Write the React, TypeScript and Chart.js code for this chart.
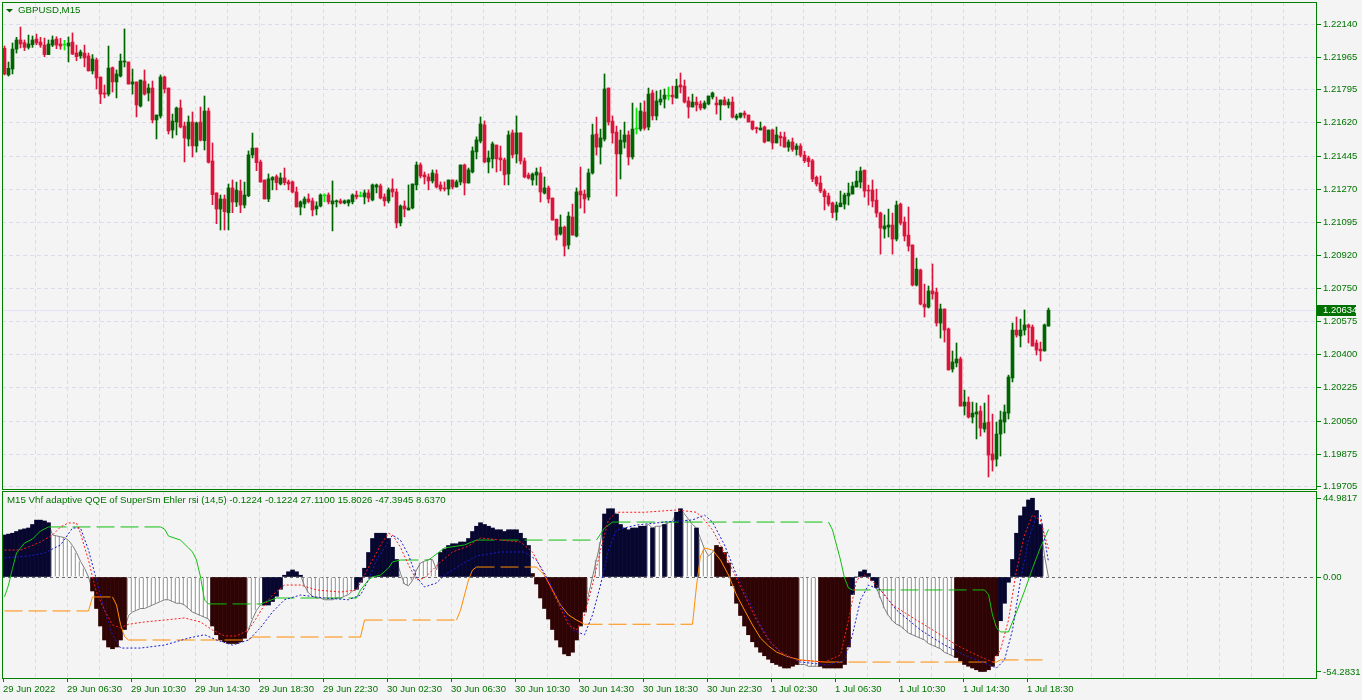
import { useEffect, useRef } from 'react';
import { Chart, registerables } from 'chart.js';

Chart.register(...registerables);

// ---------------- data ----------------
const symbolTitle = 'GBPUSD,M15';
const indicatorTitle =
  'M15 Vhf adaptive QQE of SuperSm Ehler rsi (14,5) -0.1224 -0.1224 27.1100 15.8026 -47.3945 8.6370';

const timeTickLabels = [
  '29 Jun 2022', '29 Jun 06:30', '29 Jun 10:30', '29 Jun 14:30', '29 Jun 18:30', '29 Jun 22:30',
  '30 Jun 02:30', '30 Jun 06:30', '30 Jun 10:30', '30 Jun 14:30', '30 Jun 18:30', '30 Jun 22:30',
  '1 Jul 02:30', '1 Jul 06:30', '1 Jul 10:30', '1 Jul 14:30', '1 Jul 18:30',
];

const priceTickValues = [
  1.2214, 1.21965, 1.21795, 1.2162, 1.21445, 1.2127, 1.21095, 1.2092, 1.2075, 1.20575,
  1.204, 1.20225, 1.2005, 1.19875, 1.19705,
];

const indicatorTickValues = [44.9817, 0, -54.2831];
const indicatorTickLabels = ['44.9817', '0.00', '-54.2831'];

const opens = [
  1.22012, 1.21872, 1.21903, 1.22008, 1.22056, 1.22042, 1.22017, 1.22031, 1.22061, 1.22045,
  1.22029, 1.21979, 1.22029, 1.22061, 1.22035, 1.22029, 1.22024, 1.22045, 1.21987, 1.21972,
  1.21987, 1.21972, 1.21893, 1.21951, 1.21861, 1.21777, 1.21771, 1.2191, 1.21835, 1.21866,
  1.2194, 1.2194, 1.21824, 1.21835, 1.21708, 1.2184, 1.21777, 1.21803, 1.21635, 1.21656,
  1.21861, 1.21803, 1.21582, 1.21624, 1.21698, 1.21603, 1.21535, 1.21624, 1.21498, 1.21624,
  1.21526, 1.21682, 1.21419, 1.21251, 1.21166, 1.21219, 1.21147, 1.21277, 1.21203, 1.21261,
  1.21187, 1.21236, 1.21451, 1.21487, 1.21414, 1.21319, 1.21219, 1.21319, 1.21337, 1.21298,
  1.2133, 1.21309, 1.21309, 1.21256, 1.21177, 1.21193, 1.21219, 1.21209, 1.21167, 1.21182,
  1.21235, 1.2124, 1.21193, 1.21204, 1.21209, 1.21198, 1.21198, 1.21204, 1.2124, 1.21233,
  1.2123, 1.21251, 1.21214, 1.21282, 1.21288, 1.2123, 1.21209, 1.21272, 1.21256, 1.21093,
  1.21182, 1.21161, 1.21172, 1.21293, 1.21398, 1.21346, 1.21335, 1.21314, 1.21351, 1.21293,
  1.21277, 1.21272, 1.21319, 1.21282, 1.21309, 1.21398, 1.21303, 1.21361, 1.21467, 1.21524,
  1.21609, 1.21414, 1.2143, 1.21503, 1.21435, 1.21425, 1.21351, 1.21567, 1.21456, 1.21567,
  1.21419, 1.21345, 1.21319, 1.21345, 1.21356, 1.2125, 1.21277, 1.21224, 1.21113, 1.21035,
  1.21071, 1.20977, 1.21124, 1.21024, 1.21261, 1.21245, 1.21229, 1.21356, 1.21561, 1.21492,
  1.21534, 1.21803, 1.21629, 1.21571, 1.21456, 1.21519, 1.21556, 1.2144, 1.21587, 1.21587,
  1.21677, 1.21598, 1.21777, 1.21656, 1.21729, 1.21745, 1.2176, 1.21766, 1.2175, 1.21819,
  1.21813, 1.21735, 1.21703, 1.21729, 1.21719, 1.21698, 1.21719, 1.21756, 1.21724, 1.21714,
  1.2174, 1.21714, 1.21729, 1.21645, 1.2165, 1.21671, 1.21661, 1.21629, 1.21592, 1.21582,
  1.21598, 1.21524, 1.21582, 1.21514, 1.2155, 1.21545, 1.21492, 1.21519, 1.2148, 1.21498,
  1.2145, 1.21435, 1.2142, 1.21333, 1.21303, 1.21261, 1.21235, 1.21198, 1.2115, 1.21178,
  1.21192, 1.21235, 1.21245, 1.21282, 1.21308, 1.21371, 1.21266, 1.21266, 1.21213, 1.21145,
  1.21061, 1.21071, 1.21082, 1.21008, 1.21192, 1.21098, 1.21029, 1.20977, 1.20766, 1.20845,
  1.20666, 1.2065, 1.20735, 1.20729, 1.20566, 1.2064, 1.20535, 1.20324, 1.20356, 1.20377,
  1.20129, 1.2015, 1.20071, 1.20087, 1.20103, 1.20008, 1.20045, 1.19877, 1.1985, 1.19982,
  1.20045, 1.20092, 1.20277, 1.20529, 1.20498, 1.20529, 1.20556, 1.20545, 1.20461, 1.20429,
  1.20419, 1.2055,
];

const highs = [
  1.22024, 1.2194, 1.2204, 1.2207, 1.22124, 1.22056, 1.22082, 1.22077, 1.22087, 1.2207,
  1.22066, 1.22056, 1.22077, 1.22073, 1.22065, 1.22054, 1.22072, 1.22093, 1.22029, 1.22003,
  1.22029, 1.21987, 1.21979, 1.21961, 1.21861, 1.21819, 1.22024, 1.21914, 1.21898, 1.21982,
  1.22114, 1.2194, 1.21903, 1.21835, 1.21845, 1.21898, 1.21824, 1.2184, 1.21661, 1.21872,
  1.21866, 1.21803, 1.21666, 1.21703, 1.2174, 1.21624, 1.21656, 1.21677, 1.21624, 1.21703,
  1.21761, 1.21698, 1.21514, 1.21251, 1.2124, 1.2124, 1.21298, 1.21319, 1.21308, 1.21319,
  1.21308, 1.21472, 1.21566, 1.21487, 1.21424, 1.21319, 1.21351, 1.21337, 1.21346, 1.21356,
  1.21382, 1.21319, 1.21314, 1.21282, 1.21209, 1.2123, 1.21246, 1.21224, 1.21204, 1.21246,
  1.21246, 1.21251, 1.21314, 1.21214, 1.21219, 1.21214, 1.21214, 1.21246, 1.21261, 1.21256,
  1.21267, 1.21267, 1.21298, 1.21298, 1.21298, 1.21246, 1.21277, 1.21325, 1.21272, 1.21188,
  1.21209, 1.21293, 1.21298, 1.21414, 1.21409, 1.21361, 1.21351, 1.21372, 1.21372, 1.21309,
  1.21309, 1.21319, 1.21319, 1.21319, 1.21398, 1.21403, 1.21382, 1.21493, 1.21546, 1.21651,
  1.2163, 1.21472, 1.21519, 1.21503, 1.21498, 1.21435, 1.21577, 1.21582, 1.21656, 1.21567,
  1.21435, 1.21356, 1.21356, 1.21382, 1.21387, 1.21335, 1.21287, 1.21224, 1.21113, 1.21135,
  1.21077, 1.2115, 1.21192, 1.21277, 1.21387, 1.21266, 1.21377, 1.21613, 1.2165, 1.21587,
  1.21877, 1.21803, 1.21656, 1.21603, 1.21582, 1.21624, 1.21577, 1.21724, 1.21698, 1.21724,
  1.21735, 1.21803, 1.21792, 1.21787, 1.21792, 1.21798, 1.21808, 1.21813, 1.2185, 1.21882,
  1.21845, 1.21756, 1.21771, 1.21756, 1.21735, 1.21735, 1.21761, 1.21782, 1.21756, 1.2174,
  1.21756, 1.21745, 1.21756, 1.21666, 1.21671, 1.21682, 1.21661, 1.21629, 1.21598, 1.21624,
  1.21603, 1.21582, 1.21587, 1.21598, 1.21571, 1.21571, 1.2153, 1.2154, 1.2151, 1.2151,
  1.2147, 1.21445, 1.21428, 1.2134, 1.2134, 1.21271, 1.2125, 1.21203, 1.21203, 1.21261,
  1.2125, 1.21303, 1.21308, 1.21366, 1.21387, 1.21371, 1.21292, 1.21319, 1.21271, 1.2115,
  1.21135, 1.21166, 1.21145, 1.21208, 1.21198, 1.21124, 1.21177, 1.20977, 1.20908, 1.2085,
  1.20771, 1.20761, 1.20877, 1.2075, 1.20666, 1.2064, 1.2054, 1.20419, 1.20461, 1.20387,
  1.20213, 1.20177, 1.2015, 1.20145, 1.20129, 1.20145, 1.20187, 1.20087, 1.20045, 1.20103,
  1.20135, 1.20292, 1.20566, 1.20598, 1.20587, 1.20635, 1.20561, 1.20556, 1.20477, 1.20466,
  1.20561, 1.20645,
];

const lows = [
  1.21872, 1.21866, 1.21877, 1.21987, 1.22014, 1.22, 1.22008, 1.22017, 1.22031, 1.22017,
  1.21968, 1.21979, 1.22021, 1.2201, 1.22007, 1.22003, 1.2194, 1.21979, 1.21947, 1.21959,
  1.21914, 1.21893, 1.21877, 1.21798, 1.21721, 1.21751, 1.21761, 1.21782, 1.21751, 1.21861,
  1.21914, 1.21824, 1.21771, 1.21651, 1.21703, 1.21766, 1.21735, 1.21619, 1.21535, 1.21645,
  1.21777, 1.21561, 1.2154, 1.21556, 1.21593, 1.21414, 1.21498, 1.2144, 1.21466, 1.21524,
  1.21477, 1.21408, 1.21189, 1.21089, 1.21056, 1.21056, 1.21056, 1.21147, 1.21179, 1.21147,
  1.21172, 1.21231, 1.21435, 1.21368, 1.21308, 1.21219, 1.21205, 1.21267, 1.21267, 1.21293,
  1.21293, 1.21267, 1.21251, 1.21177, 1.21135, 1.21172, 1.21198, 1.2113, 1.21135, 1.21177,
  1.21204, 1.21193, 1.21051, 1.21177, 1.21193, 1.21193, 1.21182, 1.21193, 1.21219, 1.2123,
  1.21193, 1.21204, 1.21209, 1.21251, 1.21219, 1.21182, 1.21198, 1.2123, 1.21067, 1.21077,
  1.21125, 1.21161, 1.21167, 1.21267, 1.2133, 1.21298, 1.21267, 1.21303, 1.21277, 1.21261,
  1.21261, 1.2124, 1.21272, 1.21282, 1.21293, 1.2124, 1.21303, 1.21356, 1.2143, 1.21514,
  1.21409, 1.21356, 1.21382, 1.21361, 1.21367, 1.21293, 1.21293, 1.21435, 1.21409, 1.21403,
  1.2133, 1.21324, 1.21292, 1.21292, 1.21203, 1.21245, 1.21198, 1.21108, 1.21003, 1.21029,
  1.20919, 1.20956, 1.21029, 1.21019, 1.21171, 1.21145, 1.21213, 1.2135, 1.2145, 1.21403,
  1.21524, 1.21608, 1.21513, 1.21234, 1.21324, 1.21487, 1.21398, 1.21429, 1.21561, 1.21577,
  1.21582, 1.21582, 1.21635, 1.21635, 1.21714, 1.21698, 1.2174, 1.21719, 1.2175, 1.21777,
  1.21724, 1.21645, 1.21703, 1.21682, 1.21687, 1.21692, 1.21714, 1.21745, 1.21666, 1.21635,
  1.21714, 1.21698, 1.21645, 1.21635, 1.21645, 1.21645, 1.21624, 1.21582, 1.21566, 1.21582,
  1.21514, 1.21524, 1.21482, 1.21514, 1.21498, 1.21492, 1.2147, 1.2147, 1.2145, 1.2144,
  1.2141, 1.21389, 1.2131, 1.21287, 1.21252, 1.21161, 1.21182, 1.2112, 1.21108, 1.21178,
  1.21166, 1.21187, 1.21245, 1.21282, 1.21277, 1.21229, 1.21187, 1.21177, 1.21124, 1.20929,
  1.21013, 1.21019, 1.20929, 1.20998, 1.21082, 1.20998, 1.20945, 1.20761, 1.20761, 1.20661,
  1.20598, 1.20645, 1.20692, 1.2055, 1.20487, 1.20466, 1.20319, 1.20308, 1.20335, 1.20129,
  1.20082, 1.20066, 1.2004, 1.19956, 1.19971, 1.19992, 1.19756, 1.19787, 1.19813, 1.19866,
  1.19987, 1.20061, 1.20256, 1.20492, 1.2044, 1.20503, 1.20461, 1.20445, 1.20398, 1.20366,
  1.20419, 1.2055,
];

const closes = [
  1.21877, 1.21907, 1.22008, 1.22056, 1.22035, 1.22017, 1.22035, 1.22056, 1.2204, 1.22029,
  1.21979, 1.22035, 1.22056, 1.22029, 1.22024, 1.22029, 1.2204, 1.21982, 1.21968, 1.21993,
  1.21961, 1.21893, 1.21956, 1.21856, 1.21771, 1.21771, 1.21908, 1.21835, 1.21877, 1.21945,
  1.21945, 1.21824, 1.21835, 1.21714, 1.21845, 1.21771, 1.21803, 1.21635, 1.21661, 1.21861,
  1.21798, 1.21577, 1.21629, 1.21698, 1.21598, 1.2154, 1.21624, 1.21498, 1.21619, 1.21529,
  1.21682, 1.21412, 1.21242, 1.21166, 1.21219, 1.21152, 1.21277, 1.21203, 1.21266, 1.21187,
  1.2124, 1.21451, 1.21487, 1.2141, 1.21308, 1.21219, 1.21325, 1.21332, 1.21305, 1.2133,
  1.21305, 1.21298, 1.21256, 1.21177, 1.21204, 1.21219, 1.21204, 1.21161, 1.21182, 1.2124,
  1.21235, 1.21204, 1.21209, 1.21209, 1.21198, 1.21209, 1.21214, 1.2124, 1.2123, 1.21233,
  1.21251, 1.21224, 1.21293, 1.21293, 1.21224, 1.21209, 1.21267, 1.21256, 1.21093, 1.21182,
  1.21167, 1.21172, 1.21298, 1.21398, 1.2134, 1.21335, 1.21314, 1.21356, 1.21282, 1.21272,
  1.21272, 1.21319, 1.21282, 1.21309, 1.21398, 1.21303, 1.21372, 1.21472, 1.2153, 1.21614,
  1.21414, 1.21435, 1.21509, 1.2143, 1.21425, 1.21346, 1.21556, 1.21451, 1.21567, 1.21419,
  1.21335, 1.21329, 1.2135, 1.21361, 1.21256, 1.21277, 1.21219, 1.21108, 1.21029, 1.21071,
  1.20971, 1.21129, 1.21029, 1.21256, 1.2124, 1.21219, 1.21356, 1.21556, 1.21492, 1.2154,
  1.21798, 1.21624, 1.21566, 1.21456, 1.21529, 1.21556, 1.2144, 1.21587, 1.21587, 1.21682,
  1.21592, 1.21771, 1.21656, 1.21735, 1.21745, 1.21766, 1.2176, 1.21756, 1.21813, 1.21808,
  1.21729, 1.21703, 1.21729, 1.21714, 1.21698, 1.21724, 1.21761, 1.21777, 1.21714, 1.2174,
  1.21714, 1.21729, 1.2165, 1.21656, 1.21671, 1.21661, 1.21624, 1.21587, 1.21589, 1.21592,
  1.21519, 1.21582, 1.21514, 1.21556, 1.2154, 1.21492, 1.21519, 1.2148, 1.21498, 1.2145,
  1.2142, 1.21415, 1.21324, 1.21298, 1.21261, 1.21231, 1.21192, 1.21147, 1.21187, 1.21198,
  1.2124, 1.2125, 1.21287, 1.21313, 1.21366, 1.21261, 1.21261, 1.21208, 1.21145, 1.21066,
  1.21077, 1.21082, 1.21008, 1.21187, 1.21092, 1.21024, 1.20971, 1.20766, 1.2085, 1.20666,
  1.2065, 1.20735, 1.20719, 1.20566, 1.2064, 1.20529, 1.20319, 1.20361, 1.20377, 1.20129,
  1.2015, 1.20071, 1.20092, 1.20098, 1.20013, 1.2004, 1.19871, 1.19845, 1.19982, 1.20056,
  1.20098, 1.20282, 1.20529, 1.20503, 1.20529, 1.20556, 1.20543, 1.20445, 1.20424, 1.20419,
  1.20556, 1.20634,
];

// indicator histogram value per bar
const qqeHist = [
  24, 24.5, 25, 26, 27, 27.5, 28, 30, 32.5, 32.5, 32, 31,
  24, 23.5, 23, 22.5, 21, 18, 14, 9, 5, 0,
  -8, -18, -28, -36, -40, -41, -40, -36, -30,
  -22, -20, -19, -18, -18, -17, -16, -15, -14, -13, -13, -14, -15, -15, -16, -18, -20, -21, -22, -23, -24,
  -28, -33, -36, -37, -38, -38, -38, -37, -35,
  -30, -24, -19, -16,
  -16, -16, -14, -11, -7, 1, 3, 4, 3, 1,
  -5, -9, -11, -12, -12, -13, -13, -13, -12, -12, -11, -10, -8,
  -7, -3, 5, 14, 22, 25, 25, 25, 22, 17, 10,
  2, -4, -5, -2, 4, 8, 9, 10, 10, 4,
  14, 16, 18, 19, 19, 20, 20, 22, 26, 29, 31, 30, 29, 28, 27, 27, 26, 27, 27, 27, 25, 22, 18,
  2, -4, -12, -18, -24, -30, -36, -40, -44, -45, -43, -36, -28, -20,
  -10, 0, 10, 20,
  36, 39, 39, 36, 30, 28, 27, 28, 28, 29, 29, 30, 28, 29, 29, 30, 31, 32, 37, 39, 36, 33, 30, 28,
  22, 16, 12, 14,
  18, 17, 14, 8,
  -5, -15, -22, -28, -33, -37, -40, -43, -45, -47, -49, -50, -51, -52, -52, -51, -50,
  -50, -50, -51, -51, -51,
  -51, -52, -52, -52, -52, -52, -50, -40,
  -10, 0, 3, 4, 2, -2, -6,
  -12, -18, -22, -25, -27, -28, -30, -32, -33, -34, -35, -36, -38, -39, -40, -41, -43, -44, -45,
  -46, -48, -50, -51, -52, -53, -54, -54, -53, -51, -45,
  -25, -15, -3, 10, 25, 35, 40, 44, 45, 38, 30,
  12, -0.1224,
];

// colour state runs of the histogram: U = navy (up), D = brown (down), N = neutral hatch
const qqeStateRuns: [string, number][] = [
  ['U', 12], ['N', 10], ['D', 9], ['N', 21], ['D', 9], ['N', 4], ['U', 10], ['N', 13], ['U', 11],
  ['N', 10], ['U', 23], ['D', 14], ['N', 4], ['U', 11], ['N', 1], ['U', 1], ['N', 2], ['U', 1],
  ['N', 2], ['U', 2], ['N', 3], ['U', 1], ['N', 4], ['D', 21], ['N', 5], ['D', 8], ['U', 7],
  ['N', 19], ['D', 11], ['U', 11], ['N', 2],
];

// lines read at selected bars: [bar index, value]
const upperLevelPts: [number, number][] = [
  [0, -11.4], [1, -4.6], [2, 5], [3, 13.7], [5, 19.4], [7, 21.7], [9, 26.3], [11, 28.6], [39, 28.6],
  [40, 27.4], [41, 23.4], [44, 21.1], [46, 16.6], [47, 14.3], [48, 9.7], [49, 0], [50, -13.1], [51, -15.4],
  [64, -15.4], [68, -12], [88, -12], [89, -7.4], [91, -1.7], [92, 0], [94, 1.1], [96, 5.1], [97, 8.6],
  [99, 9.7], [106, 9.7], [107, 11.4], [110, 16.6], [115, 18.3], [118, 21.1], [148, 21.1], [150, 28],
  [152, 31.4], [206, 31.4], [207, 26.9], [208, 18.3], [209, 9.7], [210, -0.6], [211, -6.3], [212, -7.4],
  [245, -7.4], [246, -10], [247, -21.7], [248, -29], [249, -31.4], [251, -31.4], [253, -20], [255, -8],
  [257, 5], [259, 17], [261, 27.11],
];

const lowerLevelPts: [number, number][] = [
  [0, -19.4], [21, -19.4], [22, -11.4], [27, -11.4], [28, -16], [29, -27], [30, -34], [31, -36], [61, -36],
  [62, -34.3], [89, -34.3], [90, -24.6], [113, -24.6], [114, -19], [115, -10.3], [116, -1.7], [117, 4],
  [118, 5.7], [133, 5.7], [135, 1], [137, -7.4], [139, -16], [141, -21.7], [143, -24.6], [145, -27],
  [172, -27], [173, -5], [174, 12], [175, 16.6], [177, 15.4], [179, 9.7], [181, 1.1], [183, -10.3],
  [185, -18.9], [187, -27.4], [189, -34.9], [191, -39.4], [193, -42.9], [196, -45.7], [199, -47.4],
  [205, -48.6], [248, -48.6], [249, -47.39], [261, -47.39],
];

const fastLinePts: [number, number][] = [
  [0, 15.4], [4, 15.4], [6, 17.1], [9, 20], [12, 24], [14, 28.6], [16, 30.9], [18, 30.9], [19, 25],
  [20, 17.1], [21, 9.7], [22, 0], [23, -8.6], [25, -19], [27, -27.4], [29, -29], [31, -27], [35, -25.7],
  [40, -24.6], [45, -23.4], [49, -25.7], [52, -30.3], [55, -33.7], [58, -33.7], [61, -30.3], [63, -23.4],
  [65, -16], [67, -10.3], [70, -4.6], [74, -4.6], [78, -7.4], [84, -8.6], [88, -7.4], [90, 1.1], [92, 9.7],
  [94, 18.3], [96, 25], [97, 24], [99, 17], [101, 6.9], [103, -1.7], [105, -0.6], [107, 4], [109, 8.6],
  [112, 14.3], [116, 17.7], [119, 22.3], [124, 21.1], [129, 20], [132, 14.3], [135, 1.1], [138, -13],
  [141, -27.4], [143, -30.3], [145, -21.7], [147, -4.6], [149, 15.4], [151, 32.6], [153, 37], [160, 37],
  [168, 38.3], [173, 37], [175, 32.6], [177, 26.9], [179, 18.3], [182, 4], [185, -10.3], [188, -24.6],
  [191, -36], [194, -42.9], [198, -47.4], [205, -48.6], [209, -44.6], [211, -24.6], [213, -1.7],
  [215, 1.1], [218, -4.6], [222, -16], [228, -24.6], [234, -33], [238, -38.9], [243, -44.6], [247, -48.6],
  [249, -41.7], [251, -24.6], [253, 4], [255, 24], [257, 35.4], [259, 32.6], [261, 15.8026],
];

const slowLinePts: [number, number][] = [
  [0, 10.9], [6, 12], [10, 13.7], [14, 18.3], [17, 28], [19, 28], [21, 15.4], [23, -1.7], [25, -18.9],
  [27, -33], [29, -40.6], [34, -40.6], [40, -38.9], [46, -34.9], [50, -33], [53, -36], [57, -38.9],
  [61, -36], [64, -29], [67, -20], [70, -13], [74, -10.3], [80, -12], [86, -13], [89, -10.3], [91, -1.7],
  [93, 9.7], [95, 16.6], [97, 24], [99, 21], [101, 12.6], [103, 0], [105, -5.7], [108, -3.4], [110, 1.1],
  [114, 6.9], [118, 12], [124, 14.3], [130, 14.3], [133, 9.7], [136, -1.7], [139, -16], [142, -30.3],
  [145, -33], [147, -21.7], [149, -4.6], [151, 15.4], [153, 26.9], [158, 29.7], [165, 31.4], [172, 32.6],
  [175, 35.4], [177, 31.4], [180, 18.3], [183, 1.1], [186, -13], [189, -27.4], [192, -38.9], [195, -44.6],
  [199, -48.6], [206, -50.3], [210, -47.4], [212, -33], [214, -13], [216, -4.6], [219, -7.4], [223, -18.9],
  [229, -30.3], [235, -38.9], [240, -44.6], [245, -49.1], [248, -52], [250, -47.4], [252, -30.3],
  [254, -1.7], [256, 21], [258, 35.4], [259, 35.4], [261, 8.637],
];

// ---------------- styling ----------------
const BG = '#f4f4f4';
const FRAME = '#008000';
const TEXT = '#007400';
const GRID = '#dcdcef';
const BULL = '#006400';
const BEAR = '#dc143c';
const DOJI = '#00f000';
const NAVY = '#06062e';
const BROWN = '#2e0303';
const FAMILY = '"Liberation Sans", Arial, sans-serif';
const FONT = { family: FAMILY, size: 9.5 };
const TITLE_FONT = `9.7px ${FAMILY}`;
const W = 1362;
const TOP_H = 490;
const BOT_H = 210;
const X_MIN = -0.625;
const X_MAX = 327.875;
const PRICE_MAX = 1.222558;
const PRICE_MIN = 1.196926;
const IND_MAX = 49.143;
const IND_MIN = -57.714;

const qqeState: string[] = qqeStateRuns.flatMap(([s, n]) => Array(n).fill(s));
const gridTicks = Array.from({ length: 41 }, (_, m) => 8 * m - 0.375);

const frameRect = (chart: any, top: number) => {
  const { ctx, chartArea: a } = chart;
  ctx.save();
  ctx.strokeStyle = FRAME;
  ctx.lineWidth = 1;
  ctx.strokeRect(Math.round(a.left) + 0.5, top + 0.5, Math.round(a.right - a.left), Math.round(a.bottom) - top);
  ctx.restore();
};

const xScaleBase = (showLabels: boolean) => ({
  type: 'linear',
  min: X_MIN,
  max: X_MAX,
  offset: false,
  afterBuildTicks: (s: any) => {
    s.ticks = gridTicks.map((v) => ({ value: v }));
  },
  afterFit: (s: any) => {
    s.height = showLabels ? 22 : 1;
    s.paddingLeft = 0;
    s.paddingRight = 0;
  },
  ticks: {
    display: showLabels,
    autoSkip: false,
    maxRotation: 0,
    minRotation: 0,
    align: 'start',
    padding: 2,
    color: TEXT,
    font: FONT,
    callback: (_v: any, i: number) => (i % 2 === 0 && timeTickLabels[i / 2] ? timeTickLabels[i / 2] : ''),
  },
  grid: {
    offset: false,
    color: (c: any) => (c.index === 0 ? 'rgba(0,0,0,0)' : GRID),
    drawTicks: showLabels,
    tickLength: 4,
    tickColor: (c: any) => (c.index % 2 === 0 && timeTickLabels[c.index / 2] ? FRAME : 'rgba(0,0,0,0)'),
  },
  border: { display: false, dash: [4, 3] },
});

const levelLine = (pts: [number, number][], color: string) => ({
  type: 'line',
  data: pts.map(([x, y]) => ({ x, y })),
  borderColor: color,
  borderWidth: 1,
  borderDash: [],
  pointRadius: 0,
  tension: 0,
  segment: {
    borderDash: (c: any) => (c.p0.parsed.y === c.p1.parsed.y ? [18, 6] : undefined),
  },
  order: 1,
});

const dottedLine = (pts: [number, number][], color: string) => ({
  type: 'line',
  data: pts.map(([x, y]) => ({ x, y })),
  borderColor: color,
  borderWidth: 1,
  borderDash: [2, 2],
  pointRadius: 0,
  tension: 0,
  order: 0,
});

export default function App() {
  const topRef = useRef<HTMLCanvasElement>(null);
  const botRef = useRef<HTMLCanvasElement>(null);

  useEffect(() => {
    document.body.style.margin = '0';
    document.body.style.background = BG;

    const idx = opens.map((_, i) => i);
    const colors = idx.map((i) => (closes[i] > opens[i] ? BULL : closes[i] < opens[i] ? BEAR : DOJI));
    const lastClose = closes[closes.length - 1];

    const topDecor = {
      id: 'topDecor',
      beforeDatasetsDraw(chart: any) {
        const { ctx, chartArea: a, scales } = chart;
        const y = Math.round(scales.y.getPixelForValue(lastClose)) + 0.5;
        ctx.save();
        ctx.strokeStyle = '#e2e2fa';
        ctx.lineWidth = 1;
        ctx.beginPath();
        ctx.moveTo(a.left, y);
        ctx.lineTo(a.right, y);
        ctx.stroke();
        ctx.restore();
      },
      afterDraw(chart: any) {
        const { ctx, chartArea: a, scales } = chart;
        frameRect(chart, 2);
        ctx.save();
        ctx.fillStyle = '#006400';
        ctx.beginPath();
        ctx.moveTo(6, 9);
        ctx.lineTo(13, 9);
        ctx.lineTo(9.5, 12.5);
        ctx.closePath();
        ctx.fill();
        ctx.fillStyle = TEXT;
        ctx.font = TITLE_FONT;
        ctx.textBaseline = 'middle';
        ctx.textAlign = 'left';
        ctx.fillText(symbolTitle, 18, 10.5);
        ctx.font = `${FONT.size}px ${FONT.family}`;
        const y = Math.round(scales.y.getPixelForValue(lastClose));
        ctx.fillStyle = '#007000';
        ctx.fillRect(Math.round(a.right) + 1, y - 5, 39, 11);
        ctx.fillStyle = '#ffffff';
        ctx.fillText(lastClose.toFixed(5), Math.round(a.right) + 7, y + 0.5);
        ctx.restore();
      },
    };

    const top = new Chart(topRef.current as HTMLCanvasElement, {
      type: 'bar',
      data: {
        datasets: [
          {
            type: 'bar',
            data: idx.map((i) => ({ x: i, y: [Math.min(opens[i], closes[i]), Math.max(opens[i], closes[i])] })),
            backgroundColor: colors,
            barThickness: 3,
            minBarLength: 1,
            grouped: false,
            order: 1,
          },
          {
            type: 'bar',
            data: idx.map((i) => ({ x: i, y: [lows[i], highs[i]] })),
            backgroundColor: colors,
            barThickness: 1,
            grouped: false,
            order: 2,
          },
        ],
      } as any,
      options: {
        animation: false,
        responsive: false,
        devicePixelRatio: 1,
        events: [],
        layout: { padding: { left: 2, top: 2, right: 0, bottom: 0 }, autoPadding: false },
        plugins: { legend: { display: false }, tooltip: { enabled: false } },
        scales: {
          x: xScaleBase(false) as any,
          y: {
            type: 'linear',
            position: 'right',
            min: PRICE_MIN,
            max: PRICE_MAX,
            afterBuildTicks: (s: any) => {
              s.ticks = priceTickValues.map((v) => ({ value: v }));
            },
            afterFit: (s: any) => {
              s.width = 46;
              s.paddingTop = 0;
              s.paddingBottom = 0;
            },
            ticks: {
              autoSkip: false,
              padding: 2,
              color: TEXT,
              font: FONT,
              callback: (v: any) => Number(v).toFixed(5),
            },
            grid: { color: GRID, tickLength: 5, tickColor: FRAME },
            border: { display: false, dash: [4, 3] },
          } as any,
        },
      },
      plugins: [topDecor],
    });

    const botDecor = {
      id: 'botDecor',
      afterDraw(chart: any) {
        const { ctx } = chart;
        frameRect(chart, 1);
        ctx.save();
        ctx.fillStyle = TEXT;
        ctx.font = TITLE_FONT;
        ctx.textBaseline = 'middle';
        ctx.textAlign = 'left';
        ctx.fillText(indicatorTitle, 7, 10.5);
        ctx.restore();
      },
    };

    const histFor = (code: string) =>
      qqeHist.map((v, i) => (qqeState[i] === code ? { x: i, y: v } : null)).filter((p) => p !== null);

    const bot = new Chart(botRef.current as HTMLCanvasElement, {
      type: 'bar',
      data: {
        datasets: [
          dottedLine(fastLinePts, '#ff1a1a'),
          dottedLine(slowLinePts, '#1a1ad0'),
          levelLine(upperLevelPts, '#10c010'),
          levelLine(lowerLevelPts, '#ff8c00'),
          {
            type: 'line',
            data: qqeHist.map((v, i) => ({ x: i, y: v })),
            borderColor: '#7c7c7c',
            borderWidth: 1,
            pointRadius: 0,
            segment: {
              borderColor: (c: any) =>
                qqeState[c.p0DataIndex] !== 'N' && qqeState[c.p1DataIndex] !== 'N' ? 'rgba(0,0,0,0)' : undefined,
            },
            order: 5,
          },
          {
            type: 'bar',
            data: histFor('N'),
            backgroundColor: '#ffffff',
            borderColor: '#7c7c7c',
            borderWidth: { left: 1, right: 0, top: 0, bottom: 0 },
            borderSkipped: false,
            barThickness: 3,
            grouped: false,
            order: 6,
          },
          {
            type: 'bar',
            data: histFor('U'),
            backgroundColor: NAVY,
            barThickness: 4,
            grouped: false,
            order: 4,
          },
          {
            type: 'bar',
            data: histFor('D'),
            backgroundColor: BROWN,
            barThickness: 4,
            grouped: false,
            order: 4,
          },
        ],
      } as any,
      options: {
        animation: false,
        responsive: false,
        devicePixelRatio: 1,
        events: [],
        layout: { padding: { left: 2, top: 1, right: 0, bottom: 0 }, autoPadding: false },
        plugins: { legend: { display: false }, tooltip: { enabled: false } },
        scales: {
          x: xScaleBase(true) as any,
          y: {
            type: 'linear',
            position: 'right',
            min: IND_MIN,
            max: IND_MAX,
            afterBuildTicks: (s: any) => {
              s.ticks = indicatorTickValues.map((v) => ({ value: v }));
            },
            afterFit: (s: any) => {
              s.width = 46;
              s.paddingTop = 0;
              s.paddingBottom = 0;
            },
            ticks: {
              autoSkip: false,
              padding: 2,
              color: TEXT,
              font: FONT,
              callback: (_v: any, i: number) => indicatorTickLabels[i],
            },
            grid: {
              color: (c: any) => (c.tick && c.tick.value === 0 ? '#6a6a6a' : 'rgba(0,0,0,0)'),
              tickLength: 5,
              tickColor: FRAME,
            },
            border: { display: false, dash: [3, 3] },
          } as any,
        },
      },
      plugins: [botDecor],
    });

    return () => {
      top.destroy();
      bot.destroy();
    };
  }, []);

  return (
    <div style={{ position: 'relative', width: W, height: TOP_H + BOT_H, background: BG, overflow: 'hidden' }}>
      <canvas ref={topRef} width={W} height={TOP_H} style={{ position: 'absolute', left: 0, top: 0, display: 'block' }} />
      <canvas ref={botRef} width={W} height={BOT_H} style={{ position: 'absolute', left: 0, top: TOP_H, display: 'block' }} />
    </div>
  );
}
